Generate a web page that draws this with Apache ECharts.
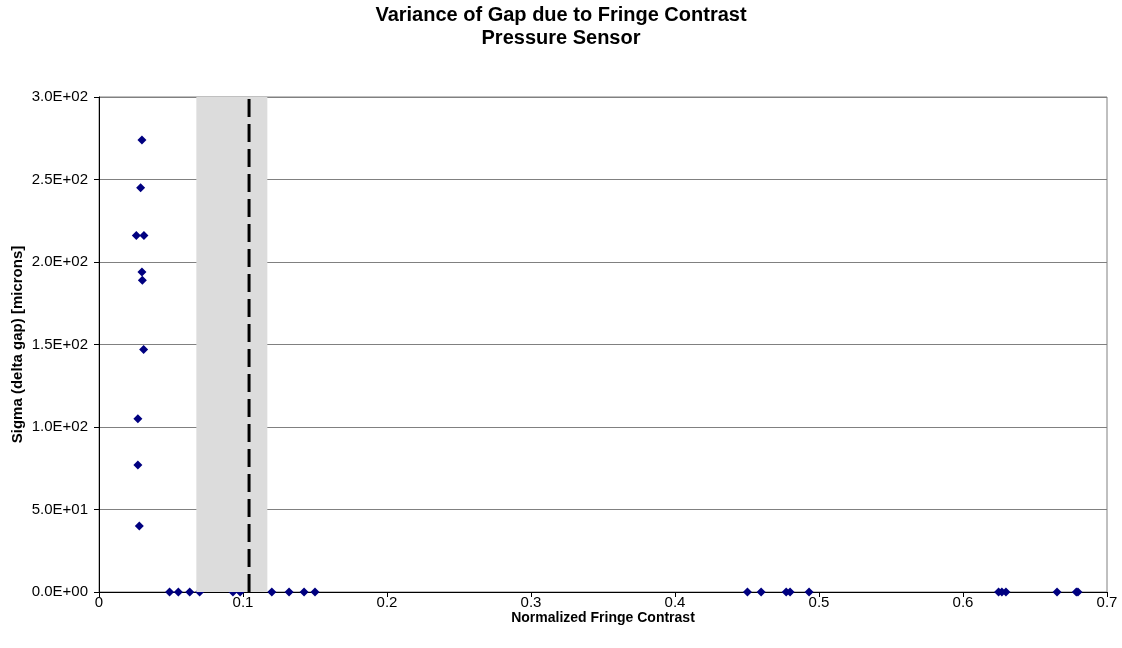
<!DOCTYPE html>
<html>
<head>
<meta charset="utf-8">
<script src="https://cdn.jsdelivr.net/npm/echarts@6/dist/echarts.min.js"></script>
<style>
html,body{margin:0;padding:0;background:#fff;}
#chart{width:1122px;height:648px;}
</style>
</head>
<body>
<div id="chart"></div>
<script>
// Data
var contrast = [0.0298, 0.0289, 0.0259, 0.0312, 0.0298, 0.0301, 0.0310, 0.0270, 0.0270, 0.0280,
  0.0490, 0.0551, 0.0630, 0.0699, 0.0930, 0.0980, 0.1200, 0.1320, 0.1424, 0.1500,
  0.4503, 0.4598, 0.4772, 0.4799, 0.4931, 0.6247, 0.6270, 0.6298, 0.6653, 0.6787, 0.6798];
var sigma = [274, 245, 216, 216, 194, 189, 147, 105, 77, 40,
  0, 0, 0, 0, 0, 0, 0, 0, 0, 0,
  0, 0, 0, 0, 0, 0, 0, 0, 0, 0, 0];
var bandRange = [0.0676, 0.1169];
var thresholdX = 0.1042;
var xTicks = [0, 0.1, 0.2, 0.3, 0.4, 0.5, 0.6, 0.7];
var yTicks = [0, 50, 100, 150, 200, 250, 300];

function sci(v) {
  if (v === 0) return '0.0E+00';
  var e = Math.floor(Math.log10(Math.abs(v)));
  var m = v / Math.pow(10, e);
  if (Math.abs(m) >= 9.95) { m /= 10; e += 1; }
  var es = (e < 0 ? '-' : '+') + (Math.abs(e) < 10 ? '0' : '') + Math.abs(e);
  return m.toFixed(1) + 'E' + es;
}

var yMin = yTicks[0], yMax = yTicks[yTicks.length - 1];
var pts = contrast.map(function (x, i) { return [x, sigma[i]]; });
var FONT = '"Liberation Sans", Arial, sans-serif';

var chart = echarts.init(document.getElementById('chart'));
chart.setOption({
  animation: false,
  backgroundColor: '#ffffff',
  title: {
    text: 'Variance of Gap due to Fringe Contrast\nPressure Sensor',
    left: 'center',
    top: -1,
    textStyle: { fontFamily: FONT, fontWeight: 'bold', fontSize: 20, color: '#000', lineHeight: 23 }
  },
  grid: {
    left: 99, right: 15, top: 97, bottom: 56,
    show: true, borderColor: '#808080', borderWidth: 1, backgroundColor: 'transparent'
  },
  xAxis: {
    type: 'value',
    min: xTicks[0], max: xTicks[xTicks.length - 1], interval: 0.1,
    name: 'Normalized Fringe Contrast',
    nameLocation: 'middle', nameGap: 19, nameMoveOverlap: false,
    nameTextStyle: { fontFamily: FONT, fontWeight: 'bold', fontSize: 14, color: '#000' },
    axisLine: { show: true, onZero: false, lineStyle: { color: '#000', width: 1 } },
    axisTick: { show: true, inside: false, length: 5, lineStyle: { color: '#000' } },
    axisLabel: { fontFamily: FONT, fontSize: 15, color: '#000', margin: 3 },
    splitLine: { show: false }
  },
  yAxis: {
    type: 'value',
    min: yMin, max: yMax, interval: 50,
    name: 'Sigma (delta gap) [microns]',
    nameLocation: 'middle', nameGap: 74, nameRotate: 90, nameMoveOverlap: false,
    nameTextStyle: { fontFamily: FONT, fontWeight: 'bold', fontSize: 15, color: '#000' },
    axisLine: { show: true, onZero: false, lineStyle: { color: '#000', width: 1 } },
    axisTick: { show: true, inside: false, length: 5, lineStyle: { color: '#000' } },
    axisLabel: { fontFamily: FONT, fontSize: 15, color: '#000', margin: 11, formatter: sci },
    splitLine: { show: true, lineStyle: { color: '#808080', width: 1 } }
  },
  series: [
    {
      type: 'scatter',
      data: pts,
      symbol: 'diamond',
      symbolSize: 9,
      itemStyle: { color: '#000080', opacity: 1 },
      z: 2
    },
    {
      type: 'custom',
      data: [[bandRange[0], bandRange[1]]],
      z: 5,
      silent: true,
      renderItem: function (params, api) {
        var p0 = api.coord([api.value(0), yMax]);
        var p1 = api.coord([api.value(1), yMin]);
        return {
          type: 'rect',
          shape: { x: p0[0], y: p0[1], width: p1[0] - p0[0], height: p1[1] - p0[1] },
          style: { fill: '#dcdcdc' }
        };
      }
    },
    {
      type: 'line',
      data: [[thresholdX, yMin], [thresholdX, yMax]],
      z: 6,
      silent: true,
      symbol: 'none',
      lineStyle: { color: '#000', width: 3, type: [18, 7] }
    }
  ]
});
</script>
</body>
</html>
